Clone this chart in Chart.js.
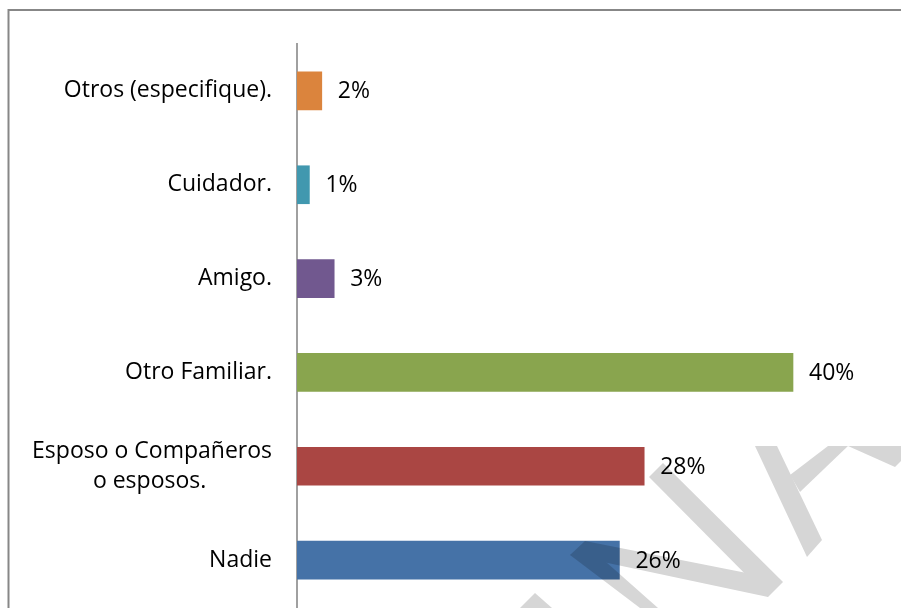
<!DOCTYPE html>
<html>
<head>
<meta charset="utf-8">
<script src="https://cdn.jsdelivr.net/npm/chart.js@4/dist/chart.umd.min.js"></script>
<style>
  html, body { margin: 0; padding: 0; background: #fff; }
  canvas { display: block; }
</style>
</head>
<body>
<canvas id="c" width="901" height="608"></canvas>
<script>
// Categories, top to bottom (second line of the two-line label is padded so it sits centred under the first)
const categories = [
  'Otros (especifique).',
  'Cuidador.',
  'Amigo.',
  'Otro Familiar.',
  ['Esposo o Compañeros', 'o esposos.' + '\u00a0'.repeat(11)],
  'Nadie'
];
// Share of respondents, percent
const percentages = [2, 1, 3, 40, 28, 26];
const barColors = ['#DB843D', '#4198AF', '#71588F', '#89A54E', '#AA4643', '#4572A7'];

const FONT = '"Open Sans", sans-serif';
const FONT_SIZE = 23;

// Frame around the chart (top and left edges)
const framePlugin = {
  id: 'frame',
  beforeDraw(chart) {
    const ctx = chart.ctx;
    ctx.save();
    ctx.strokeStyle = '#878787';
    ctx.lineWidth = 2;
    ctx.beginPath();
    ctx.moveTo(8.5, 608);
    ctx.lineTo(8.5, 10);
    ctx.lineTo(901, 10);
    ctx.stroke();
    ctx.restore();
  }
};

// Percent labels at the end of each bar
const valueLabels = {
  id: 'valueLabels',
  afterDatasetsDraw(chart) {
    const ctx = chart.ctx;
    const meta = chart.getDatasetMeta(0);
    ctx.save();
    ctx.font = FONT_SIZE + 'px ' + FONT;
    ctx.fillStyle = '#000';
    ctx.textAlign = 'left';
    ctx.textBaseline = 'middle';
    meta.data.forEach((bar, i) => {
      ctx.fillText(percentages[i] + '%', bar.x + 16, bar.y + 1);
    });
    ctx.restore();
  }
};

// Translucent grey watermark strokes in the lower right
const watermark = {
  id: 'watermark',
  afterDraw(chart) {
    const shapes = [
      [[649,477],[663,463],[783,582],[768,597]],
      [[570,555],[585,541],[772,578],[768,597]],
      [[570,555],[588,546],[658,608],[640,608]],
      [[520,608],[535,593],[552,608]],
      [[755,446],[777,446],[822,540],[807,557]],
      [[790,475],[828,446],[848,446],[800,492]],
      [[848,446],[901,446],[901,461],[895,467]]
    ];
    const off = document.createElement('canvas');
    off.width = chart.width;
    off.height = chart.height;
    const o = off.getContext('2d');
    o.fillStyle = '#000';
    shapes.forEach(poly => {
      o.beginPath();
      poly.forEach(([x, y], k) => k ? o.lineTo(x, y) : o.moveTo(x, y));
      o.closePath();
      o.fill();
    });
    const ctx = chart.ctx;
    ctx.save();
    ctx.globalAlpha = 0.16;
    ctx.drawImage(off, 0, 0);
    ctx.restore();
  }
};

new Chart(document.getElementById('c'), {
  type: 'bar',
  data: {
    labels: categories,
    datasets: [{
      data: percentages,
      backgroundColor: barColors,
      borderWidth: 0,
      barThickness: 38
    }]
  },
  options: {
    indexAxis: 'y',
    responsive: false,
    animation: false,
    devicePixelRatio: 1,
    layout: { padding: { left: 0, right: 46, top: 44, bottom: 1 } },
    plugins: {
      legend: { display: false },
      tooltip: { enabled: false },
      title: { display: false }
    },
    scales: {
      x: {
        display: false,
        min: 0,
        max: 45
      },
      y: {
        afterFit(scale) {
          scale.width = 297;
          scale.paddingTop = 0;
          scale.paddingBottom = 0;
        },
        grid: { display: false, drawTicks: false },
        border: { display: true, color: '#a0a0a0', width: 2 },
        ticks: {
          color: '#000',
          padding: 25,
          font: { family: FONT, size: FONT_SIZE, lineHeight: 1.3 }
        }
      }
    }
  },
  plugins: [framePlugin, valueLabels, watermark]
});
</script>
</body>
</html>
